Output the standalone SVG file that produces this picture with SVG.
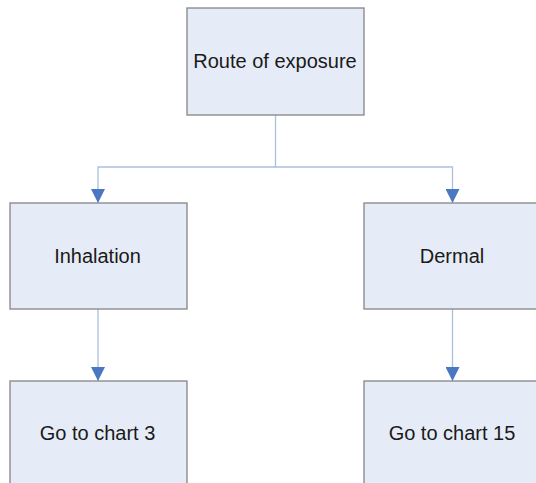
<svg xmlns="http://www.w3.org/2000/svg" width="536" height="483" viewBox="0 0 536 483">
  <style>
    .box { fill: #e6ecf7; stroke: #858585; stroke-width: 1.3; }
    .label { font-family: "Liberation Sans", Arial, sans-serif; font-size: 20px; fill: #1a1a1a; text-anchor: middle; }
    .conn { fill: none; stroke: #a9c1dd; stroke-width: 1.3; }
  </style>
  <defs>
    <marker id="arrow" viewBox="0 0 14 14" refX="14" refY="7" markerWidth="14" markerHeight="14" markerUnits="userSpaceOnUse" orient="auto">
      <path d="M0,0 L14,7 L0,14 Z" fill="#4a77c2"/>
    </marker>
  </defs>
  <rect width="536" height="483" fill="#ffffff"/>

  <g id="connectors">
    <path class="conn" d="M275.5,115 V167 H98 V203" marker-end="url(#arrow)"/>
    <path class="conn" d="M275.5,167 H452.5 V203" marker-end="url(#arrow)"/>
    <path class="conn" d="M98,309 V381" marker-end="url(#arrow)"/>
    <path class="conn" d="M452.5,309 V381" marker-end="url(#arrow)"/>
  </g>

  <g id="route">
    <rect class="box" x="187" y="8" width="177" height="107"/>
    <text class="label" x="275" y="68">Route of exposure</text>
  </g>
  <g id="inhalation">
    <rect class="box" x="10" y="203" width="177" height="106"/>
    <text class="label" x="97.5" y="263">Inhalation</text>
  </g>
  <g id="dermal">
    <rect class="box" x="364" y="203" width="186" height="106"/>
    <text class="label" x="452" y="263">Dermal</text>
  </g>
  <g id="chart3">
    <rect class="box" x="10" y="381" width="177" height="120"/>
    <text class="label" x="97.5" y="440">Go to chart 3</text>
  </g>
  <g id="chart15">
    <rect class="box" x="364" y="381" width="186" height="120"/>
    <text class="label" x="452" y="440">Go to chart 15</text>
  </g>
</svg>
